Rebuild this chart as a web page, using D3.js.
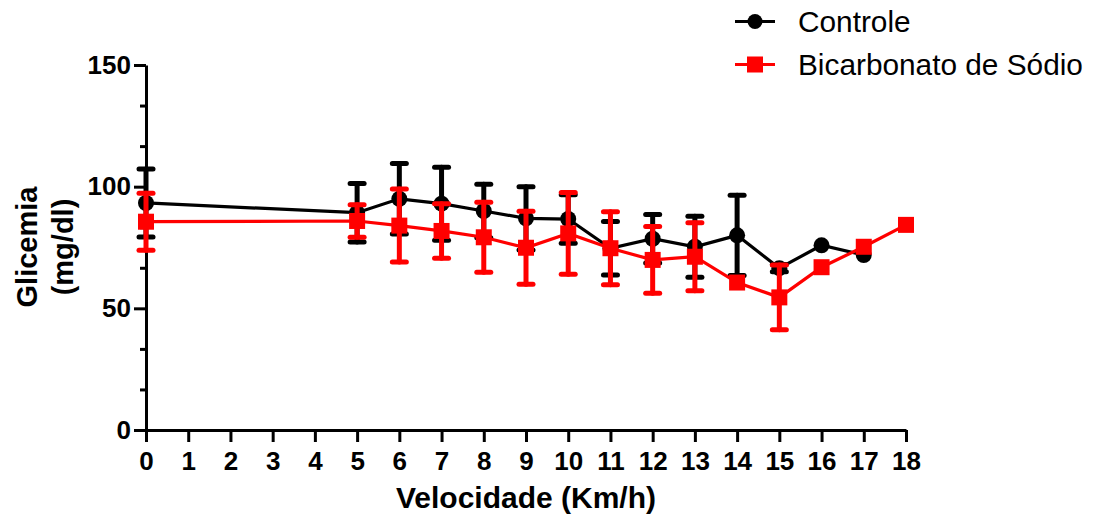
<!DOCTYPE html>
<html>
<head>
<meta charset="utf-8">
<script src="https://cdn.jsdelivr.net/npm/d3@7"></script>
<style>
  html, body { margin: 0; padding: 0; background: #fff; }
  svg { display: block; }
  text { font-family: "Liberation Sans", Arial, Helvetica, sans-serif; }
</style>
</head>
<body>
<svg id="chart" width="1094" height="520"></svg>
<script>
// ---- data ----
const xTicks = [0,1,2,3,4,5,6,7,8,9,10,11,12,13,14,15,16,17,18];
const yTicks = [0, 50, 100, 150];

const controleX   = [0, 5, 6, 7, 8, 9, 10, 11, 12, 13, 14, 15, 16, 17];
const controleY   = [93.3, 89.3, 95.0, 93.0, 90.0, 87.0, 86.7, 74.7, 78.6, 75.3, 80.0, 66.5, 75.9, 71.9];
const controleErr = [14.0, 12.0, 14.5, 15.0, 11.0, 13.0, 10.0, 11.0, 10.0, 12.5, 16.5, 1.5, 0, 0];

const bicarbX   = [0, 5, 6, 7, 8, 9, 10, 11, 12, 13, 14, 15, 16, 17, 18];
const bicarbY   = [85.6, 85.9, 84.0, 81.8, 79.2, 74.9, 80.8, 74.7, 69.9, 71.2, 60.6, 54.5, 66.9, 75.3, 84.3];
const bicarbErr = [11.7, 6.7, 15.0, 11.2, 14.4, 15.0, 16.8, 15.0, 13.7, 14.0, 0, 13.3, 0, 0, 0];

const seriesNames = ["Controle", "Bicarbonato de Sódio"];
const xTitle = "Velocidade (Km/h)";
const yTitle = ["Glicemia", "(mg/dl)"];

// ---- layout ----
const svg = d3.select("#chart");
const x = d3.scaleLinear().domain([0, 18]).range([146, 906]);
const y = d3.scaleLinear().domain([0, 150]).range([430, 65]);
const FONT = '"Liberation Sans", Arial, sans-serif';

// minor y ticks
const minorY = d3.range(0, 151, 50 / 3).filter(v => yTicks.every(t => Math.abs(t - v) > 0.01));
svg.append("g")
  .attr("transform", `translate(${x(0)},0)`)
  .call(d3.axisLeft(y).tickValues(minorY).tickSize(6).tickSizeOuter(0).tickFormat(""))
  .call(g => g.select(".domain").remove())
  .call(g => g.selectAll("line").attr("stroke", "#000").attr("stroke-width", 3));

// y axis
svg.append("g")
  .attr("transform", `translate(${x(0)},0)`)
  .call(d3.axisLeft(y).tickValues(yTicks).tickSize(12).tickSizeOuter(0).tickPadding(3))
  .call(g => g.select(".domain").attr("stroke", "#000").attr("stroke-width", 3))
  .call(g => g.selectAll("line").attr("stroke", "#000").attr("stroke-width", 3))
  .call(g => g.selectAll("text")
    .attr("fill", "#000")
    .style("font-family", FONT)
    .style("font-size", "26px").style("font-weight", "bold"));

// x axis
svg.append("g")
  .attr("transform", `translate(0,${y(0)})`)
  .call(d3.axisBottom(x).tickValues(xTicks).tickSize(12).tickSizeOuter(0).tickPadding(10).tickFormat(d3.format("d")))
  .call(g => g.select(".domain").attr("stroke", "#000").attr("stroke-width", 3))
  .call(g => g.selectAll("line").attr("stroke", "#000").attr("stroke-width", 3))
  .call(g => g.selectAll("text")
    .attr("fill", "#000")
    .style("font-family", FONT)
    .style("font-size", "26px").style("font-weight", "bold"));

// titles
svg.append("text")
  .attr("x", (x(0) + x(18)) / 2).attr("y", 508)
  .attr("text-anchor", "middle")
  .style("font-size", "30px").style("font-weight", "bold")
  .text(xTitle);

const yt = svg.append("text")
  .attr("transform", "translate(37,247) rotate(-90)")
  .attr("text-anchor", "middle")
  .style("font-size", "29px").style("font-weight", "bold");
yt.append("tspan").attr("x", 0).attr("y", 0).text(yTitle[0]);
yt.append("tspan").attr("x", 0).attr("y", 36).text(yTitle[1]);

// ---- series ----
function drawSeries(xs, ys, errs, color, shape) {
  const pts = xs.map((v, i) => ({ x: v, y: ys[i], e: errs[i] }));
  const g = svg.append("g");
  g.append("path")
    .datum(pts)
    .attr("fill", "none")
    .attr("stroke", color)
    .attr("stroke-width", 3.2)
    .attr("d", d3.line().x(d => x(d.x)).y(d => y(d.y)));

  const eb = g.append("g")
    .attr("stroke", color).attr("stroke-width", 5).attr("stroke-linecap", "round");
  pts.filter(d => d.e > 0).forEach(d => {
    const cx = x(d.x), top = y(d.y + d.e), bot = y(d.y - d.e);
    eb.append("line").attr("x1", cx).attr("x2", cx).attr("y1", top).attr("y2", bot);
    eb.append("line").attr("x1", cx - 7).attr("x2", cx + 7).attr("y1", top).attr("y2", top);
    eb.append("line").attr("x1", cx - 7).attr("x2", cx + 7).attr("y1", bot).attr("y2", bot);
  });

  if (shape === "circle") {
    g.selectAll("circle").data(pts).join("circle")
      .attr("cx", d => x(d.x)).attr("cy", d => y(d.y)).attr("r", 8)
      .attr("fill", color);
  } else {
    g.selectAll("rect").data(pts).join("rect")
      .attr("x", d => x(d.x) - 8).attr("y", d => y(d.y) - 8)
      .attr("width", 16).attr("height", 16)
      .attr("fill", color);
  }
}

drawSeries(controleX, controleY, controleErr, "#000000", "circle");
drawSeries(bicarbX, bicarbY, bicarbErr, "#ff0000", "square");

// ---- legend ----
const legend = svg.append("g");
const legendItems = [
  { name: seriesNames[0], color: "#000000", shape: "circle", y: 21.5 },
  { name: seriesNames[1], color: "#ff0000", shape: "square", y: 64.5 }
];
legendItems.forEach(it => {
  legend.append("line")
    .attr("x1", 735).attr("x2", 775).attr("y1", it.y).attr("y2", it.y)
    .attr("stroke", it.color).attr("stroke-width", 3.2);
  if (it.shape === "circle") {
    legend.append("circle").attr("cx", 755).attr("cy", it.y).attr("r", 7.5).attr("fill", it.color);
  } else {
    legend.append("rect").attr("x", 747).attr("y", it.y - 8).attr("width", 16).attr("height", 16).attr("fill", it.color);
  }
  legend.append("text")
    .attr("x", 798).attr("y", it.y + 10.5)
    .style("font-size", "29.8px")
    .attr("fill", "#000")
    .text(it.name);
});
</script>
</body>
</html>
